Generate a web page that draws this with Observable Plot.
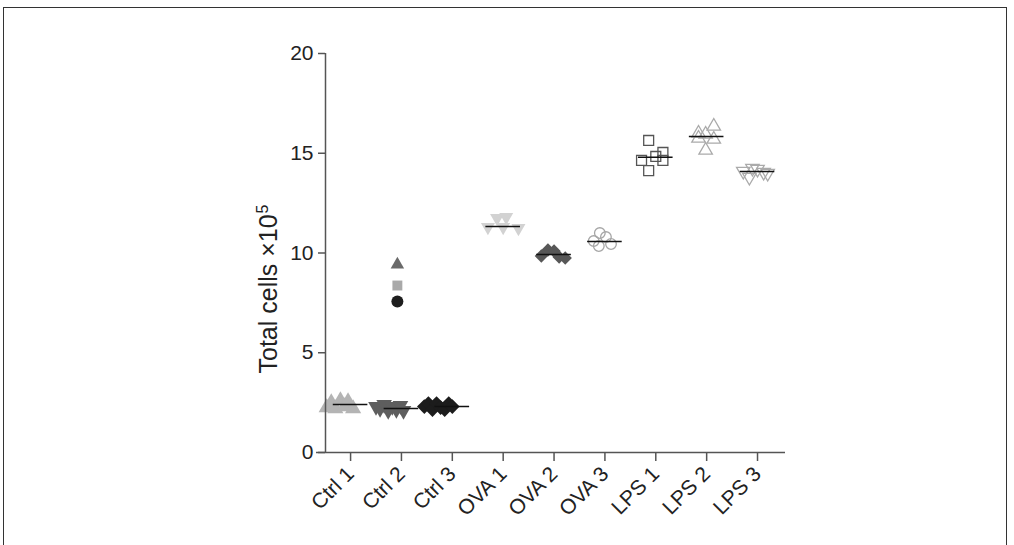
<!DOCTYPE html>
<html>
<head>
<meta charset="utf-8">
<script src="https://cdn.jsdelivr.net/npm/d3@7"></script>
<script src="https://cdn.jsdelivr.net/npm/@observablehq/plot@0.6"></script>
<style>
  body { margin: 0; background: #fff; }
  #wrap { position: relative; width: 1014px; height: 545px; overflow: hidden; }
  #frame { position: absolute; left: 3px; top: 7px; width: 1002px; height: 560px;
           border-left: 1px solid #333; border-top: 1px solid #333; border-right: 1px solid #333; }
  svg { font-family: "Liberation Sans", Arial, sans-serif; }
</style>
</head>
<body>
<div id="wrap"><div id="frame"></div></div>
<script>
// ---- Data ----
const groups = ["Ctrl 1","Ctrl 2","Ctrl 3","OVA 1","OVA 2","OVA 3","LPS 1","LPS 2","LPS 3"];
const yTicks = [0, 5, 10, 15, 20];
const yLabel = "Total cells \u00D710";
const yLabelExponent = "5";

const ctrl1Values = [2.25, 2.5, 2.2, 2.6, 2.3, 2.55, 2.2];
const ctrl1Jitter = [-0.47, -0.38, -0.3, -0.2, -0.12, -0.05, 0.05];
const ctrl2Values = [2.3, 2.2, 2.4, 2.1, 2.3, 2.15, 2.35, 2.1];
const ctrl2Jitter = [-0.5, -0.42, -0.34, -0.26, -0.18, -0.1, -0.02, 0.04];
const ctrl3Values = [2.3, 2.45, 2.15, 2.45, 2.25, 2.15, 2.45, 2.3];
const ctrl3Jitter = [-0.55, -0.47, -0.39, -0.31, -0.23, -0.15, -0.07, 0.0];
const ova1Values = [11.3, 11.75, 11.3, 11.8, 11.25];
const ova1Jitter = [-0.3, -0.12, 0.0, 0.06, 0.3];
const ova2Values = [9.85, 10.15, 10.1, 9.8, 9.75];
const ova2Jitter = [-0.25, -0.12, 0.0, 0.1, 0.22];
const ova3Values = [10.6, 11.0, 10.8, 10.45, 10.35];
const ova3Jitter = [-0.22, -0.1, 0.02, 0.12, -0.12];
const lps1Values = [15.64, 14.64, 14.13, 14.84, 15.04, 14.64];
const lps1Jitter = [-0.14, -0.28, -0.14, 0.0, 0.14, 0.14];
const lps2Values = [16.0, 16.35, 15.95, 15.75, 15.7, 15.15];
const lps2Jitter = [-0.16, 0.14, -0.02, -0.16, 0.14, -0.02];
const lps3Values = [14.1, 13.8, 14.25, 14.2, 14.05, 14.0];
const lps3Jitter = [-0.28, -0.16, -0.1, 0.0, 0.12, 0.2];

const medians = [2.4, 2.2, 2.3, 11.33, 9.92, 10.58, 14.8, 15.84, 14.09];

// Ctrl 2 extra points
const ctrl2ExtraValues = [9.42, 8.37, 7.57];
const ctrl2ExtraJitter = [-0.08, -0.08, -0.08];

// ---- Build ----
const triangleDown = {
  draw(ctx, size) {
    const y = Math.sqrt(size / (3 * Math.sqrt(3)));
    ctx.moveTo(0, 2 * y);
    ctx.lineTo(Math.sqrt(3) * y, -y);
    ctx.lineTo(-Math.sqrt(3) * y, -y);
    ctx.closePath();
  }
};

const series = [
  {values: ctrl1Values, jitter: ctrl1Jitter},
  {values: ctrl2Values, jitter: ctrl2Jitter},
  {values: ctrl3Values, jitter: ctrl3Jitter},
  {values: ova1Values, jitter: ova1Jitter},
  {values: ova2Values, jitter: ova2Jitter},
  {values: ova3Values, jitter: ova3Jitter},
  {values: lps1Values, jitter: lps1Jitter},
  {values: lps2Values, jitter: lps2Jitter},
  {values: lps3Values, jitter: lps3Jitter}
];
const styles = [
  {symbol: "triangle", fill: "#b4b4b4", stroke: "none", r: 6.0},
  {symbol: triangleDown, fill: "#5e5e5e", stroke: "none", r: 5.8},
  {symbol: "diamond2", fill: "#1c1c1c", stroke: "none", r: 6.6},
  {symbol: triangleDown, fill: "#d2d2d2", stroke: "none", r: 5.2},
  {symbol: "diamond2", fill: "#575757", stroke: "none", r: 6.0},
  {symbol: "circle", fill: "none", stroke: "#a6a6a6", r: 5.3},
  {symbol: "square", fill: "none", stroke: "#555", r: 5.6},
  {symbol: "triangle", fill: "none", stroke: "#aaa", r: 5.0},
  {symbol: triangleDown, fill: "none", stroke: "#aaa", r: 5.0}
];

const xDomain = [-0.493, 8.55];
const marks = [];

series.forEach((s, i) => {
  const rows = s.values.map((v, k) => ({x: i + s.jitter[k], y: v}));
  const st = styles[i];
  marks.push(Plot.dot(rows, {x: "x", y: "y", symbol: () => st.symbol, r: st.r,
    fill: st.fill, stroke: st.stroke, strokeWidth: 1.3}));
});

const extraStyles = [
  {symbol: "triangle", fill: "#6a6a6a", r: 5.0},
  {symbol: "square", fill: "#a9a9a9", r: 5.6},
  {symbol: "circle", fill: "#1e1e1e", r: 6.0}
];
ctrl2ExtraValues.forEach((v, k) => {
  const st = extraStyles[k];
  marks.push(Plot.dot([{x: 1 + ctrl2ExtraJitter[k], y: v}], {x: "x", y: "y",
    symbol: () => st.symbol, r: st.r, fill: st.fill, stroke: "none"}));
});

const medianRows = medians.map((m, i) => ({x1: i - 0.34, x2: i + 0.34, y: m}));

const chart = Plot.plot({
  width: 1014,
  height: 545,
  marginLeft: 325,
  marginRight: 229,
  marginTop: 53,
  marginBottom: 93,
  style: {fontFamily: "'Liberation Sans', Arial, sans-serif", background: "transparent", overflow: "visible"},
  symbol: {type: "identity"},
  x: {type: "linear", domain: xDomain},
  y: {domain: [0, 20]},
  marks: [
    ...marks,
    Plot.ruleY(medianRows, {x1: "x1", x2: "x2", y: "y", stroke: "#111", strokeWidth: 1.5}),
    Plot.axisY({ticks: yTicks, tickSize: 7, tickPadding: 5, label: null, fontSize: 21,
      stroke: "#555", strokeWidth: 1.5, color: "#222", tickFormat: d => String(d)}),
    Plot.ruleX([xDomain[0]], {y1: 0, y2: 20, stroke: "#555", strokeWidth: 1.5}),
    Plot.ruleY([0], {x1: -0.67, x2: xDomain[1], stroke: "#555", strokeWidth: 1.5}),
    Plot.axisX({ticks: d3.range(groups.length), tickFormat: i => groups[i], tickSize: 9,
      tickPadding: 9, tickRotate: -45, label: null, fontSize: 21, stroke: "#555",
      strokeWidth: 1.5, color: "#222"}),
    Plot.text([yLabel], {frameAnchor: "left", dx: -57, dy: 36, rotate: -90,
      textAnchor: "middle", fontSize: 25, fill: "#222", text: d => d,
      className: "ylabel"})
  ]
});

// superscript exponent on the y label
const lbl = chart.querySelector("text.ylabel, .ylabel text");
if (lbl) {
  const ts = document.createElementNS("http://www.w3.org/2000/svg", "tspan");
  ts.setAttribute("dy", "-0.55em");
  ts.setAttribute("dx", "1");
  ts.setAttribute("font-size", "16");
  ts.textContent = yLabelExponent;
  lbl.appendChild(ts);
}

document.getElementById("wrap").prepend(chart);
chart.style.position = "absolute";
chart.style.left = "0";
chart.style.top = "0";
</script>
</body>
</html>
